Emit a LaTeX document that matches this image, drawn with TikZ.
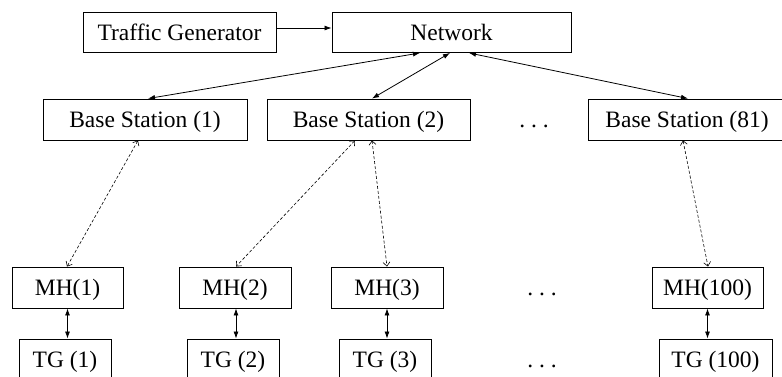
\documentclass[tikz,border=0pt]{standalone}
\usepackage{fontspec}
\setmainfont{Liberation Serif}
\usetikzlibrary{arrows.meta}
\begin{document}
\begin{tikzpicture}[x=1pt,y=-1pt,
  label font/.style={font=\fontsize{23.5pt}{28pt}\selectfont},
  box/.style={draw, line width=0.9pt, inner sep=0pt, minimum height=41pt,
    text height=15.5pt, text depth=0pt, label font},
  gap/.style={inner sep=0pt, text height=15.5pt, text depth=0pt, label font},
  link/.style={line width=0.8pt,
    {Latex[length=7pt,width=5pt]}-{Latex[length=7pt,width=5pt]}},
  feed/.style={line width=0.8pt, -{Latex[length=7pt,width=5pt]}},
  wireless/.style={line width=0.6pt, dash pattern=on 3pt off 2pt,
    {Straight Barb[length=4pt,width=7pt]}-{Straight Barb[length=4pt,width=7pt]}},
]
\useasboundingbox (0,0) rectangle (782,376);
\clip (0,0) rectangle (782,376);

% top row
\node[box, minimum width=193pt, minimum height=40pt] (tgen) at (179.5,32.5) {Traffic Generator};
\node[box, minimum width=239pt, minimum height=40pt] (net) at (451.5,32.5) {Network};

% base stations
\node[box, minimum width=204pt] (bs1) at (145,119.5) {Base Station (1)};
\node[box, minimum width=203pt] (bs2) at (368.5,119.5) {Base Station (2)};
\node[gap] (bsdots) at (534,119.5) {.\ .\ .};
\node[box, minimum width=198pt] (bs81) at (687,119.5) {Base Station (81)};

% mobile hosts
\node[box, minimum width=111pt] (mh1) at (67.5,287.5) {MH(1)};
\node[box, minimum width=112pt] (mh2) at (235,287.5) {MH(2)};
\node[box, minimum width=112pt] (mh3) at (387,287.5) {MH(3)};
\node[gap] (mhdots) at (542,287.5) {.\ .\ .};
\node[box, minimum width=111pt] (mh100) at (707.5,287.5) {MH(100)};

% traffic generators
\node[box, minimum width=92pt] (tg1) at (65,359.5) {TG (1)};
\node[box, minimum width=92pt] (tg2) at (233,359.5) {TG (2)};
\node[box, minimum width=92pt] (tg3) at (385,359.5) {TG (3)};
\node[gap] (tgdots) at (542,359.5) {.\ .\ .};
\node[box, minimum width=113pt] (tg100) at (715.5,359.5) {TG (100)};

% wired links
\draw[feed] ([yshift=4.5pt]tgen.east) -- ([yshift=4.5pt]net.west);
\draw[link] ([xshift=-31.5pt]net.south) -- ([xshift=3pt]bs1.north);
\draw[link] ([xshift=-1.5pt]net.south) -- ([xshift=3.5pt]bs2.north);
\draw[link] ([xshift=17.5pt]net.south) -- ([xshift=1pt]bs81.north);

% radio links
\draw[wireless] ([xshift=-7pt]bs1.south) -- ([xshift=-0.5pt]mh1.north);
\draw[wireless] ([xshift=-13.5pt]bs2.south) -- ([xshift=1pt]mh2.north);
\draw[wireless] ([xshift=3.5pt]bs2.south) -- (mh3.north);
\draw[wireless] ([xshift=-4pt]bs81.south) -- ([xshift=0.5pt]mh100.north);

% host to generator links
\draw[link] (mh1.south) -- (mh1.south |- tg1.north);
\draw[link] ([xshift=1pt]mh2.south) -- ([xshift=1pt]mh2.south |- tg2.north);
\draw[link] (mh3.south) -- (mh3.south |- tg3.north);
\draw[link] (mh100.south) -- (mh100.south |- tg100.north);
\end{tikzpicture}
\end{document}
